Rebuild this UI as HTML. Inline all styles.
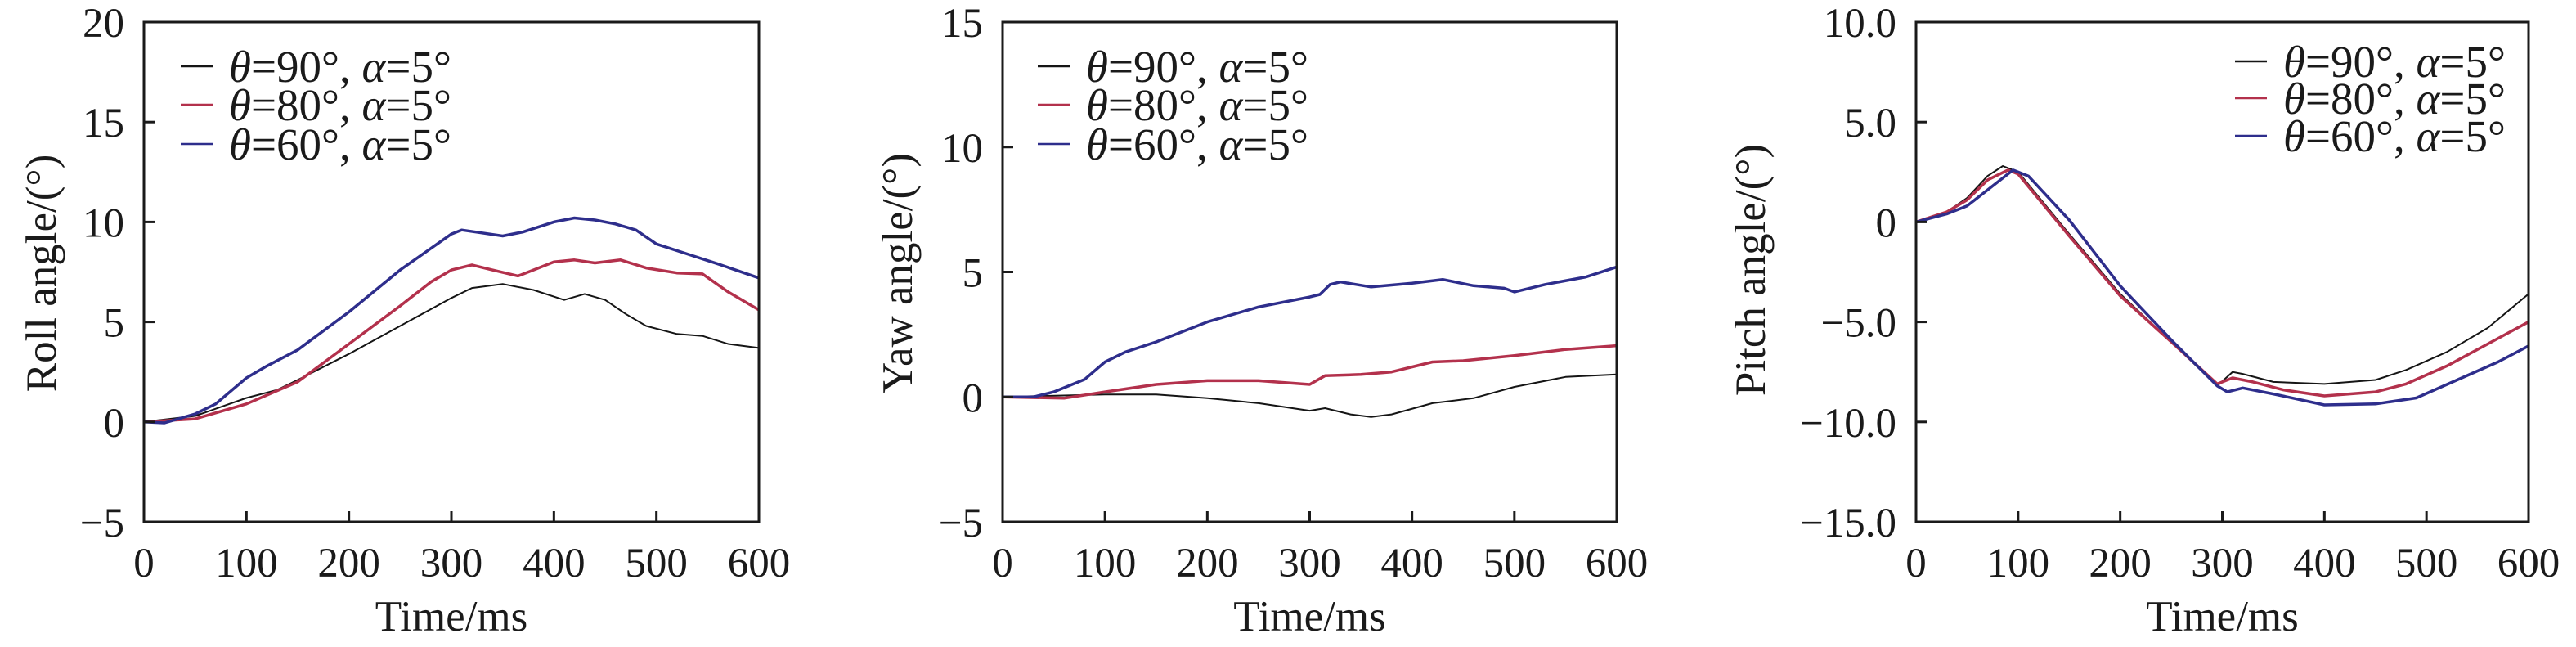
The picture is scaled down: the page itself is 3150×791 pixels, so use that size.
<!DOCTYPE html>
<html><head><meta charset="utf-8"><style>
html,body{margin:0;padding:0;background:#fff;}
svg{display:block;font-family:"Liberation Serif",serif;}
</style></head><body>
<svg id="fig" width="3150" height="791" viewBox="0 0 3150 791" xmlns="http://www.w3.org/2000/svg"></svg>
<script>
const xTicks=[0,100,200,300,400,500,600];
const legendLabels=["90","80","60"];
const seriesColors=["#151515","#b3314c","#2e2e8c"];
// Roll
const rollBlackX=[0,50,100,130,150,200,250,300,320,350,380,410,430,450,470,490,520,545,570,600];
const rollBlackY=[0,0.3,1.2,1.6,2.1,3.4,4.8,6.2,6.7,6.9,6.6,6.1,6.4,6.1,5.4,4.8,4.4,4.3,3.9,3.7];
const rollRedX=[0,50,100,150,200,250,280,300,320,340,365,380,400,420,440,465,490,520,545,570,600];
const rollRedY=[0,0.15,0.9,2.0,3.9,5.8,7.0,7.6,7.85,7.6,7.3,7.6,8.0,8.1,7.95,8.1,7.7,7.45,7.4,6.5,5.6];
const rollBlueX=[0,20,50,70,100,120,150,200,250,300,310,330,350,370,400,420,440,460,480,500,530,560,600];
const rollBlueY=[0,-0.05,0.4,0.9,2.2,2.8,3.6,5.5,7.6,9.4,9.6,9.45,9.3,9.5,10.0,10.2,10.1,9.9,9.6,8.9,8.4,7.9,7.2];
// Yaw
const yawBlackX=[0,100,150,200,250,300,315,340,360,380,420,460,500,550,600];
const yawBlackY=[0,0.1,0.1,-0.05,-0.25,-0.55,-0.45,-0.7,-0.8,-0.7,-0.25,-0.05,0.4,0.8,0.9];
const yawRedX=[0,60,100,150,200,250,300,315,350,380,420,450,500,550,600];
const yawRedY=[0,-0.05,0.2,0.5,0.65,0.65,0.5,0.85,0.9,1.0,1.4,1.45,1.65,1.9,2.05];
const yawBlueX=[0,30,50,80,100,120,150,200,250,300,310,320,330,360,400,430,460,490,500,530,570,600];
const yawBlueY=[0,0,0.2,0.7,1.4,1.8,2.2,3.0,3.6,4.0,4.1,4.5,4.6,4.4,4.55,4.7,4.45,4.35,4.2,4.5,4.8,5.2];
// Pitch
const pitchBlackX=[0,30,50,70,85,100,150,200,250,295,310,320,350,400,450,480,520,560,600];
const pitchBlackY=[0,0.5,1.2,2.3,2.8,2.5,-0.6,-3.6,-6.0,-8.2,-7.5,-7.6,-8.0,-8.1,-7.9,-7.4,-6.5,-5.3,-3.6];
const pitchRedX=[0,30,50,70,90,100,150,200,250,295,310,330,360,400,450,480,520,560,600];
const pitchRedY=[0,0.5,1.1,2.1,2.6,2.4,-0.7,-3.7,-6.0,-8.1,-7.8,-8.0,-8.4,-8.7,-8.5,-8.1,-7.2,-6.1,-5.0];
const pitchBlueX=[0,30,50,70,95,110,150,200,250,295,305,320,350,400,450,490,530,570,600];
const pitchBlueY=[0,0.4,0.8,1.6,2.6,2.3,0.1,-3.2,-5.9,-8.2,-8.5,-8.3,-8.6,-9.15,-9.1,-8.8,-7.9,-7.0,-6.2];
const rollYTicks=[-5,0,5,10,15,20];
const yawYTicks=[-5,0,5,10,15];
const pitchYTicks=[-15,-10,-5,0,5,10];
const pitchYLabels=["\u221215.0","\u221210.0","\u22125.0","0","5.0","10.0"];

const NS="http://www.w3.org/2000/svg";
const svg=document.getElementById('fig');
function mk(tag,attrs,parent){const e=document.createElementNS(NS,tag);for(const k in attrs)e.setAttribute(k,attrs[k]);(parent||svg).appendChild(e);return e;}

function chart(cfg){
  const g=mk('g',{});
  
  
  const L=cfg.left,R=cfg.right,T=27,B=638;
  const xs=v=>L+(v-0)/600*(R-L);
  const ys=v=>B-(v-cfg.ymin)/(cfg.ymax-cfg.ymin)*(B-T);
  cfg.series.forEach((s,i)=>{
    const d=s.x.map((xv,j)=>(j?'L':'M')+xs(xv).toFixed(1)+','+ys(s.y[j]).toFixed(1)).join(' ');
    const p=mk('path',{d:d,fill:'none',stroke:seriesColors[i],'stroke-width':i==0?2:3.5,'stroke-linejoin':'round'},g);
    
    
  });
  const fr=mk('rect',{x:L,y:T,width:R-L,height:B-T,fill:'none',stroke:'#1a1a1a','stroke-width':3},g);
  
  
  xTicks.forEach(t=>{
    const x=xs(t);
    if(t>0&&t<600){const tk=mk('line',{x1:x,x2:x,y1:B,y2:B-13,stroke:'#1a1a1a','stroke-width':3},g);
      
      }
    const tx=mk('text',{x:x,y:705,'text-anchor':'middle','font-size':51,fill:'#1a1a1a'},g);
    tx.textContent=t;
    
    
  });
  cfg.yticks.forEach((t,i)=>{
    const y=ys(t);
    if(t>cfg.ymin&&t<cfg.ymax){const tk=mk('line',{x1:L,x2:L+13,y1:y,y2:y,stroke:'#1a1a1a','stroke-width':3},g);
      
      }
    const tx=mk('text',{x:L-24,y:y+18,'text-anchor':'end','font-size':51,fill:'#1a1a1a'},g);
    tx.textContent=cfg.ylabels[i];
    
    
  });
  const xt=mk('text',{x:(L+R)/2,y:771,'text-anchor':'middle','font-size':53,fill:'#1a1a1a'},g);
  xt.textContent='Time/ms';
  
  
  const yt=mk('text',{x:0,y:0,'text-anchor':'middle','font-size':53,fill:'#1a1a1a',transform:`translate(${cfg.ylx},${cfg.lyc}) rotate(-90)`},g);
  yt.textContent=cfg.ytitle;
  
  
  cfg.legY.forEach((ly,i)=>{
    const lg=mk('g',{},g);
    
    
    mk('line',{x1:cfg.legX,x2:cfg.legX+39,y1:ly,y2:ly,stroke:seriesColors[i],'stroke-width':2.5},lg);
    const t=mk('text',{x:cfg.legX+59,y:ly+19,'font-size':55,fill:'#1a1a1a'},lg);
    t.innerHTML='<tspan font-style="italic">θ</tspan>='+legendLabels[i]+'°, <tspan font-style="italic">α</tspan>=5°';
  });
}
chart({name:'roll-chart',left:176,right:928,ymin:-5,ymax:20,yticks:rollYTicks,ylabels:rollYTicks.map(v=>v<0?'\u2212'+(-v):''+v),
  ytitle:'Roll angle/(°)',ylx:68,lyc:334,legX:221,legY:[81,128,176],
  series:[{x:rollBlackX,y:rollBlackY},{x:rollRedX,y:rollRedY},{x:rollBlueX,y:rollBlueY}]});
chart({name:'yaw-chart',left:1226,right:1977,ymin:-5,ymax:15,yticks:yawYTicks,ylabels:yawYTicks.map(v=>v<0?'\u2212'+(-v):''+v),
  ytitle:'Yaw angle/(°)',ylx:1115,lyc:334,legX:1269,legY:[81,128,176],
  series:[{x:yawBlackX,y:yawBlackY},{x:yawRedX,y:yawRedY},{x:yawBlueX,y:yawBlueY}]});
chart({name:'pitch-chart',left:2343,right:3092,ymin:-15,ymax:10,yticks:pitchYTicks,ylabels:pitchYLabels,
  ytitle:'Pitch angle/(°)',ylx:2158,lyc:330,legX:2733,legY:[75,120,166],
  series:[{x:pitchBlackX,y:pitchBlackY},{x:pitchRedX,y:pitchRedY},{x:pitchBlueX,y:pitchBlueY}]});
</script>
</body></html>
